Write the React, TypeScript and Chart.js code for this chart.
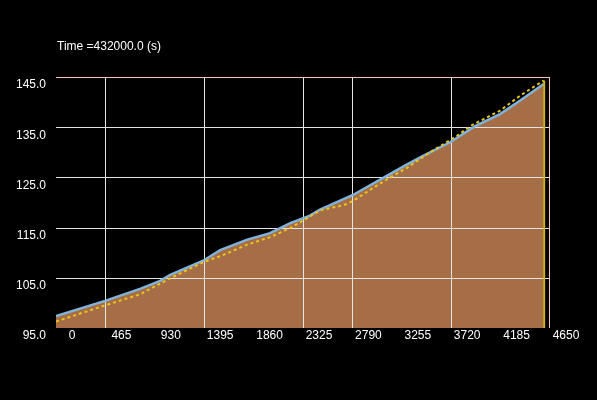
import React, { useEffect, useRef } from "react";
import { Chart, registerables } from "chart.js";

Chart.register(...registerables);

const titleText = "Time =432000.0 (s)";

// Upper (blue) profile, also the top of the brown filled area
const blueX = [0, 461, 790, 980, 1075, 1385, 1545, 1800, 2015, 2205, 2390, 2485, 2795, 3080, 3305, 3455, 3710, 3945, 4180, 4370, 4590];
const blueY = [97.4, 100.4, 102.8, 104.4, 105.6, 108.4, 110.5, 112.6, 113.9, 115.9, 117.4, 118.6, 121.5, 124.9, 127.6, 129.3, 132.0, 135.2, 137.6, 140.3, 143.6];

// Yellow dotted profile
const yellowX = [0, 461, 790, 1075, 1385, 1545, 1800, 2015, 2205, 2365, 2485, 2580, 2700, 2795, 2890, 2985, 3115, 3305, 3490, 3645, 3775, 3915, 4180, 4370, 4590];
const yellowY = [96.3, 99.5, 101.7, 104.9, 108.1, 109.3, 111.6, 113.1, 114.9, 116.9, 118.4, 118.9, 119.4, 120.3, 121.6, 122.9, 124.6, 126.9, 129.6, 131.6, 133.3, 135.4, 138.3, 141.3, 144.3];

// Vertical yellow line at the end
const endX = [4595, 4595];
const endY = [95, 144.3];

// Axis settings
const xMin = 0;
const xMax = 4650;
const xStep = 465;
const yMin = 95;
const yMax = 145;
const yStep = 10;

// Gridlines visible in the reference
const gridXValues = [465, 1395, 2325, 2790, 3720];
const gridYValues = [105, 115, 125, 135];
const borderXValues = [4650];
const borderYValues = [145];

const FONT = "'Liberation Sans', Arial, sans-serif";

export default function App() {
  const ref = useRef<HTMLCanvasElement | null>(null);

  useEffect(() => {
    if (!ref.current) return;

    const titlePlugin = {
      id: "titleText",
      afterDraw(chart: any) {
        const c = chart.ctx;
        c.save();
        c.fillStyle = "#ffffff";
        c.font = `12px ${FONT}`;
        c.textAlign = "left";
        c.textBaseline = "middle";
        c.fillText(titleText, 57, 47);
        c.restore();
      },
    };

    const gridPlugin = {
      id: "overGrid",
      afterDatasetDraw(chart: any, args: any) {
        if (args.index !== 0) return;
        const c = chart.ctx;
        const xs = chart.scales.x;
        const ys = chart.scales.y;
        const { left, right, top, bottom } = chart.chartArea;
        c.save();
        c.lineWidth = 1;
        c.strokeStyle = "#e4e4e4";
        gridXValues.forEach((v) => {
          const px = Math.round(xs.getPixelForValue(v)) + 0.5;
          c.beginPath();
          c.moveTo(px, top);
          c.lineTo(px, bottom);
          c.stroke();
        });
        gridYValues.forEach((v) => {
          const py = Math.round(ys.getPixelForValue(v)) + 0.5;
          c.beginPath();
          c.moveTo(left, py);
          c.lineTo(right, py);
          c.stroke();
        });
        c.strokeStyle = "#f2c4c4";
        borderXValues.forEach((v) => {
          const px = Math.round(xs.getPixelForValue(v)) - 0.5;
          c.beginPath();
          c.moveTo(px, top);
          c.lineTo(px, bottom);
          c.stroke();
        });
        borderYValues.forEach((v) => {
          const py = Math.round(ys.getPixelForValue(v)) + 0.5;
          c.beginPath();
          c.moveTo(left, py);
          c.lineTo(right, py);
          c.stroke();
        });
        c.restore();
      },
    };

    const chart = new Chart(ref.current, {
      type: "line",
      data: {
        datasets: [
          {
            data: blueX.map((x, i) => ({ x, y: blueY[i] })),
            fill: "start",
            backgroundColor: "#a66e47",
            borderWidth: 0,
            borderColor: "rgba(0,0,0,0)",
            pointRadius: 0,
            order: 10,
          },
          {
            data: blueX.map((x, i) => ({ x, y: blueY[i] })),
            fill: false,
            borderColor: "#80b3da",
            borderWidth: 2.5,
            pointRadius: 0,
            order: 3,
          },
          {
            data: endX.map((x, i) => ({ x, y: endY[i] })),
            fill: false,
            borderColor: "#d8b41c",
            borderWidth: 2,
            pointRadius: 0,
            order: 2,
          },
          {
            data: yellowX.map((x, i) => ({ x, y: yellowY[i] })),
            fill: false,
            borderColor: "#e9c51a",
            borderWidth: 2,
            borderDash: [3, 3],
            pointRadius: 0,
            order: 1,
          },
        ],
      },
      options: {
        responsive: false,
        animation: false,
        layout: { padding: { top: 77, right: 47, left: 0, bottom: 0 } },
        plugins: {
          legend: { display: false },
          tooltip: { enabled: false },
          title: { display: false },
        },
        scales: {
          x: {
            type: "linear",
            min: xMin,
            max: xMax,
            afterFit(scale: any) {
              scale.height = 72;
            },
            ticks: {
              stepSize: xStep,
              color: "#ffffff",
              font: { family: FONT, size: 12 },
              labelOffset: 16,
              padding: 0,
              maxRotation: 0,
              autoSkip: false,
              callback: (v: any) => String(v),
            },
            grid: { display: false, drawTicks: false },
            border: { display: false },
          },
          y: {
            type: "linear",
            min: yMin,
            max: yMax,
            afterFit(scale: any) {
              scale.width = 56;
            },
            ticks: {
              stepSize: yStep,
              color: "#ffffff",
              font: { family: FONT, size: 12 },
              labelOffset: 8,
              padding: 10,
              callback: (v: any) => Number(v).toFixed(1),
            },
            grid: { display: false, drawTicks: false },
            border: { display: false },
          },
        },
      },
      plugins: [titlePlugin, gridPlugin],
    });

    return () => chart.destroy();
  }, []);

  return (
    <div style={{ position: "absolute", left: 0, top: 0, width: 597, height: 400, background: "#000" }}>
      <canvas ref={ref} width={597} height={400} />
    </div>
  );
}
